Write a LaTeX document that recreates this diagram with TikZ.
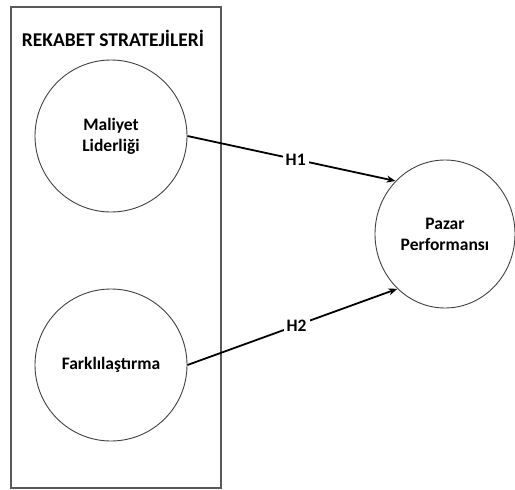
\documentclass[tikz,border=0pt]{standalone}
\usepackage{fontspec}
\setmainfont{Carlito}
\usetikzlibrary{arrows.meta,shapes.geometric}
\begin{document}
\begin{tikzpicture}[x=1pt,y=-1pt,
  frame/.style={draw=black!65,line width=1.3pt},
  construct/.style={draw=black!75,line width=0.9pt,circle,minimum size=152pt,inner sep=0pt,align=center,font=\fontsize{17.5}{21}\selectfont\bfseries},
  outcome/.style={draw=black!75,line width=0.9pt,ellipse,minimum width=140pt,minimum height=148pt,inner sep=0pt,align=center,font=\fontsize{17.5}{21}\selectfont\bfseries},
  path/.style={draw=black,line width=1.8pt,-{Stealth[length=9pt,width=7pt]}},
  hyp/.style={fill=white,inner sep=3pt,font=\fontsize{17.5}{20}\selectfont\bfseries}]
\useasboundingbox (0,0) rectangle (515,490);
\draw[frame] (11,7) rectangle (221,488);
\node[font=\fontsize{19.5}{22}\selectfont\bfseries] (title) at (113,38) {REKABET STRATEJİLERİ};
\node[construct] (ml) at (111,136) {Maliyet\\Liderliği};
\node[construct] (fk) at (111,365) {Farklılaştırma};
\node[outcome] (pp) at (445,234) {Pazar\\Performansı};
\draw[path] (ml.east) -- node[hyp,pos=0.52] {H1} (pp.133);
\draw[path] (fk.east) -- node[hyp,pos=0.52] {H2} (pp.229);
\end{tikzpicture}
\end{document}
